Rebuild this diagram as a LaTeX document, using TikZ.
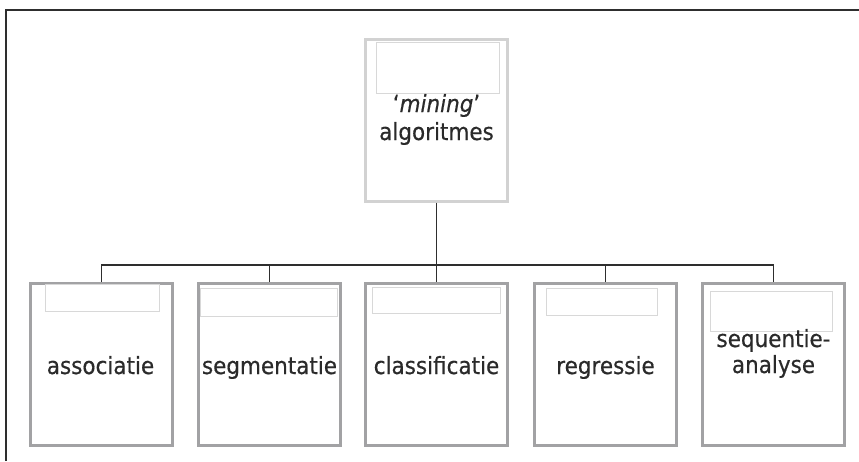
\documentclass[tikz,border=0pt]{standalone}
\usepackage{graphicx}
\usepackage{fontspec}
\setmainfont[FakeBold=0.5]{DejaVu Sans}
\definecolor{framec}{HTML}{2E2E2E}
\definecolor{boxc}{HTML}{A2A2A4}
\definecolor{topc}{HTML}{D2D2D2}
\definecolor{phc}{HTML}{D8D8D8}
\definecolor{txtc}{HTML}{2A2A2A}
\newcommand{\tallt}[1]{\scalebox{1}[1.1]{#1}}
\tikzset{
  catbox/.style={draw=boxc, line width=3pt, fill=white, minimum width=142pt, minimum height=162pt, inner sep=0pt},
  topbox/.style={catbox, draw=topc},
  ph/.style={draw=phc, line width=0.7pt, inner sep=0pt},
  lbl/.style={text=txtc, font=\fontsize{21.5}{28}\selectfont, align=center, inner sep=0pt},
  conn/.style={draw=framec, line width=1.8pt}
}
\begin{document}
\begin{tikzpicture}[x=1pt,y=-1pt]
\useasboundingbox (0,0) rectangle (859,461);
\fill[white] (0,0) rectangle (859,461);
\draw[framec, line width=1.5pt] (6,461) -- (6,10) -- (859,10);
% boxes
\node[topbox] (top) at (436.5,120) {};
\node[catbox] (b1) at (101.5,364.5) {};
\node[catbox] (b2) at (269.5,364.5) {};
\node[catbox] (b3) at (436.5,364.5) {};
\node[catbox] (b4) at (605.5,364.5) {};
\node[catbox] (b5) at (773.5,364.5) {};
% placeholders
\node[ph, minimum width=123pt, minimum height=51pt] (p0) at (437.5,67.5) {};
\node[ph, minimum width=114pt, minimum height=27pt] (p1) at (102,297.5) {};
\node[ph, minimum width=137pt, minimum height=28pt] (p2) at (268.5,302) {};
\node[ph, minimum width=128pt, minimum height=26pt] (p3) at (436,300) {};
\node[ph, minimum width=111pt, minimum height=27pt] (p4) at (601.5,301.5) {};
\node[ph, minimum width=122pt, minimum height=40pt] (p5) at (771,311) {};
% connectors
\coordinate (hub) at (436.5,265);
\draw[conn] (top.south) -- (hub);
\foreach \i in {1,...,5} { \draw[conn] (hub) -| (b\i.north); }
% labels
\node[lbl, anchor=base] (t0a) at (436.5,112) {\tallt{`\textit{mining}'}};
\node[lbl, anchor=base] (t0b) at (436.5,140) {\tallt{algoritmes}};
\node[lbl, anchor=base] (t1) at (100.5,374) {\tallt{associatie}};
\node[lbl, anchor=base] (t2) at (269.5,374) {\tallt{segmentatie}};
\node[lbl, anchor=base] (t3) at (436.5,374) {\tallt{classificatie}};
\node[lbl, anchor=base] (t4) at (605.5,374) {\tallt{regressie}};
\node[lbl, anchor=base] (t5a) at (773.5,347) {\tallt{sequentie-}};
\node[lbl, anchor=base] (t5b) at (773.5,373) {\tallt{analyse}};
\end{tikzpicture}
\end{document}
